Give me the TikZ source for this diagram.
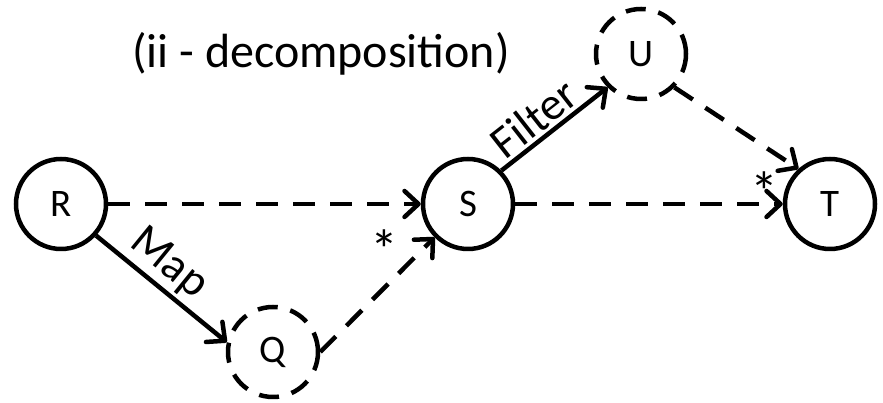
\documentclass[tikz,border=0pt]{standalone}
\usepackage{fontspec}
\setmainfont{Carlito}
\usetikzlibrary{arrows.meta,positioning}

\begin{document}
\begin{tikzpicture}[
  x=1pt, y=1pt,
  on grid,
  state/.style={circle, draw, line width=4.5pt, minimum size=90pt, inner sep=0pt, font=\fontsize{39}{44}\selectfont},
  hidden/.style={state, dash pattern=on 20pt off 13pt},
  edge/.style={-{Straight Barb[length=14pt,width=26pt,round]}, line width=4.5pt},
  dashedge/.style={edge, dash pattern=on 22pt off 15pt},
  lbl/.style={font=\fontsize{46}{50}\selectfont, sloped, inner sep=3pt},
  starmark/.style={font=\fontsize{56}{60}\selectfont, inner sep=0pt},
  title/.style={font=\fontsize{48}{52}\selectfont}
]
\useasboundingbox (0,0) rectangle (883,403);

\node[state] (R) at (61,199) {R};
\node[state, right=407pt of R] (S) {S};
\node[state, right=362pt of S] (T) {T};
\node[hidden, below right=148pt and 212pt of R] (Q) {Q};
\node[hidden, above right=150pt and 173pt of S] (U) {U};
\node[title, left=320pt of U] (caption) {(ii - decomposition)};

\draw[dashedge] (R) -- (S);
\draw[dashedge] (S) -- node[starmark, pos=0.93, above=-10pt] (starT) {*} (T.west);
\draw[edge] (R.-42) -- node[lbl, pos=0.44, above] (map) {Map} (Q.168);
\draw[dashedge] (Q.east) -- node[starmark, pos=0.7, anchor=south east] (starS) {*} (S.225);
\draw[edge] (S.45) -- node[lbl, pos=0.43, above] (filter) {Filter} (U.225);
\draw[dashedge] (U.-45) -- (T.132);
\end{tikzpicture}
\end{document}
